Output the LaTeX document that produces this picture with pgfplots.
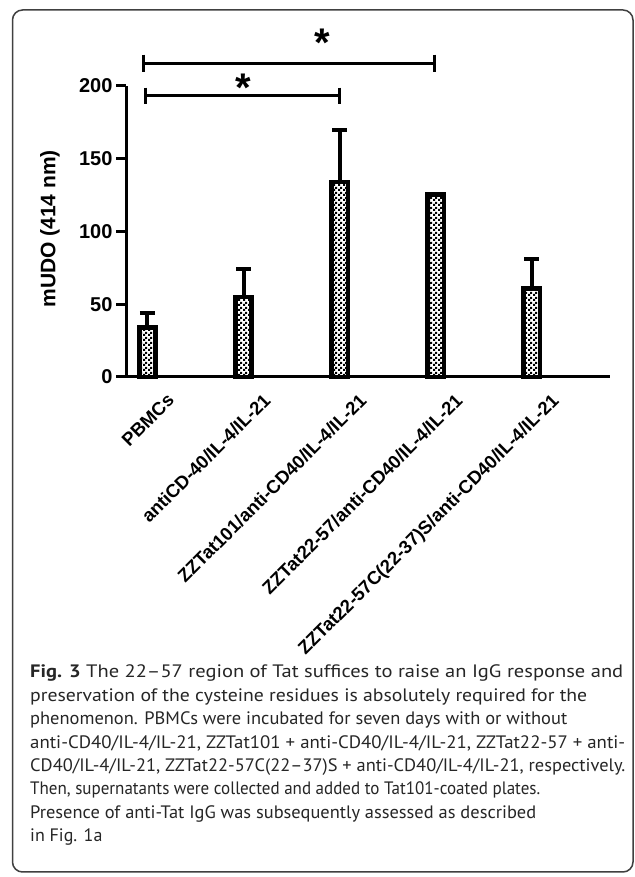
\documentclass[border=0pt]{standalone}
\usepackage{pgfplots}
\pgfplotsset{compat=1.18}
\usepackage{pgfplotstable}
\usepackage{graphicx}
\usepackage{fontspec}
\setmainfont{PT Sans}
\newfontfamily\arialfont{Liberation Sans}
\usetikzlibrary{patterns}
\pgfdeclarepatternformonly{checker}{\pgfpointorigin}{\pgfqpoint{4.6pt}{4.6pt}}{\pgfqpoint{4.6pt}{4.6pt}}{%
\pgfpathrectangle{\pgfpointorigin}{\pgfqpoint{2.3pt}{2.3pt}}%
\pgfpathrectangle{\pgfqpoint{2.3pt}{2.3pt}}{\pgfqpoint{2.3pt}{2.3pt}}%
\pgfusepath{fill}}

\pgfplotstableread{
x y e
0 34 10
1 55 19
2 134 36
3 125.5 0.6
4 61 20
}\datatable

\newcommand{\capline}[3]{\node[anchor=base west, inner sep=0pt, text=black!85, font=\fontsize{18}{23}\selectfont] at (30pt,#1pt) {\resizebox{#2pt}{\height}{#3}};}

\begin{document}
\begin{tikzpicture}
\useasboundingbox (0pt,0pt) rectangle (634pt,877pt);
\fill[white] (0pt,0pt) rectangle (634pt,877pt);
\draw[rounded corners=10pt, line width=1.5pt, black!75] (12.5pt,5pt) rectangle (633pt,867pt);
\begin{axis}[
  at={(126pt,500pt)}, anchor=south west,
  scale only axis, width=484pt, height=291pt,
  xmin=-0.2237, xmax=4.813, ymin=0, ymax=200,
  axis lines*=left,
  axis line style={line width=3pt, -},
  clip=false,
  ytick={0,50,100,150,200},
  tick align=outside, major tick length=10pt,
  tick style={line width=3pt, black},
  xtick={0,1,2,3,4},
  xtick style={draw=none},
  xticklabels={PBMCs, antiCD-40/IL-4/IL-21, ZZTat101/anti-CD40/IL-4/IL-21, ZZTat22-57/anti-CD40/IL-4/IL-21, ZZTat22-57C(22-37)S/anti-CD40/IL-4/IL-21},
  /pgf/number format/assume math mode=true,
  yticklabel style={font=\arialfont\bfseries\fontsize{20}{24}\selectfont},
  xticklabel style={font=\arialfont\bfseries\fontsize{18.5}{22}\selectfont, xshift=18.5pt, yshift=-5pt, rotate=45, anchor=north east, inner sep=0pt},
  ylabel={mUDO (414 nm)},
  every axis y label/.style={at={(axis description cs:-0.157,0.509)}, rotate=90, anchor=center, font=\arialfont\bfseries\fontsize{21}{25}\selectfont},
]
\addplot[ybar, bar width=16.4pt, draw=black, line width=4.6pt, pattern=checker, pattern color=black,
  error bars/.cd, y dir=plus, y explicit,
  error bar style={line width=4pt, black},
  error mark options={rotate=90, mark size=7.5pt, line width=4pt, black}]
  table[x=x, y=y, y error=e] {\datatable};
% significance brackets
\addplot[black, line width=3pt, mark=none] coordinates {(-0.04,221.5) (-0.04,209.8)};
\addplot[black, line width=3pt, mark=none] coordinates {(-0.04,215.6) (2.99,215.6)};
\addplot[black, line width=3pt, mark=none] coordinates {(2.99,221.5) (2.99,209.8)};
\addplot[black, line width=3pt, mark=none] coordinates {(-0.02,198.8) (-0.02,187.4)};
\addplot[black, line width=3pt, mark=none] coordinates {(-0.02,193.3) (2.0,193.3)};
\addplot[black, line width=3pt, mark=none] coordinates {(2.0,198.8) (2.0,187.4)};
\node[font=\arialfont\bfseries\fontsize{40}{40}\selectfont, anchor=base, inner sep=0pt] at (axis cs:1.82,220.5) {*};
\node[font=\arialfont\bfseries\fontsize{40}{40}\selectfont, anchor=base, inner sep=0pt] at (axis cs:1.0,189.5) {*};
\end{axis}
\capline{199}{593}{\textbf{Fig. 3} The 22--57 region of Tat suffices to raise an IgG response and}
\capline{175.6}{557}{preservation of the cysteine residues is absolutely required for the}
\capline{152.2}{537}{phenomenon. PBMCs were incubated for seven days with or without}
\capline{128.8}{595}{anti-CD40/IL-4/IL-21, ZZTat101 + anti-CD40/IL-4/IL-21, ZZTat22-57 + anti-}
\capline{105.4}{595}{CD40/IL-4/IL-21, ZZTat22-57C(22--37)S + anti-CD40/IL-4/IL-21, respectively.}
\capline{82}{510}{Then, supernatants were collected and added to Tat101-coated plates.}
\capline{58.6}{506}{Presence of anti-Tat IgG was subsequently assessed as described}
\node[anchor=base west, inner sep=0pt, text=black!85, font=\fontsize{18}{23}\selectfont] at (30pt,35.2pt) {in Fig. 1a};
\end{tikzpicture}
\end{document}
